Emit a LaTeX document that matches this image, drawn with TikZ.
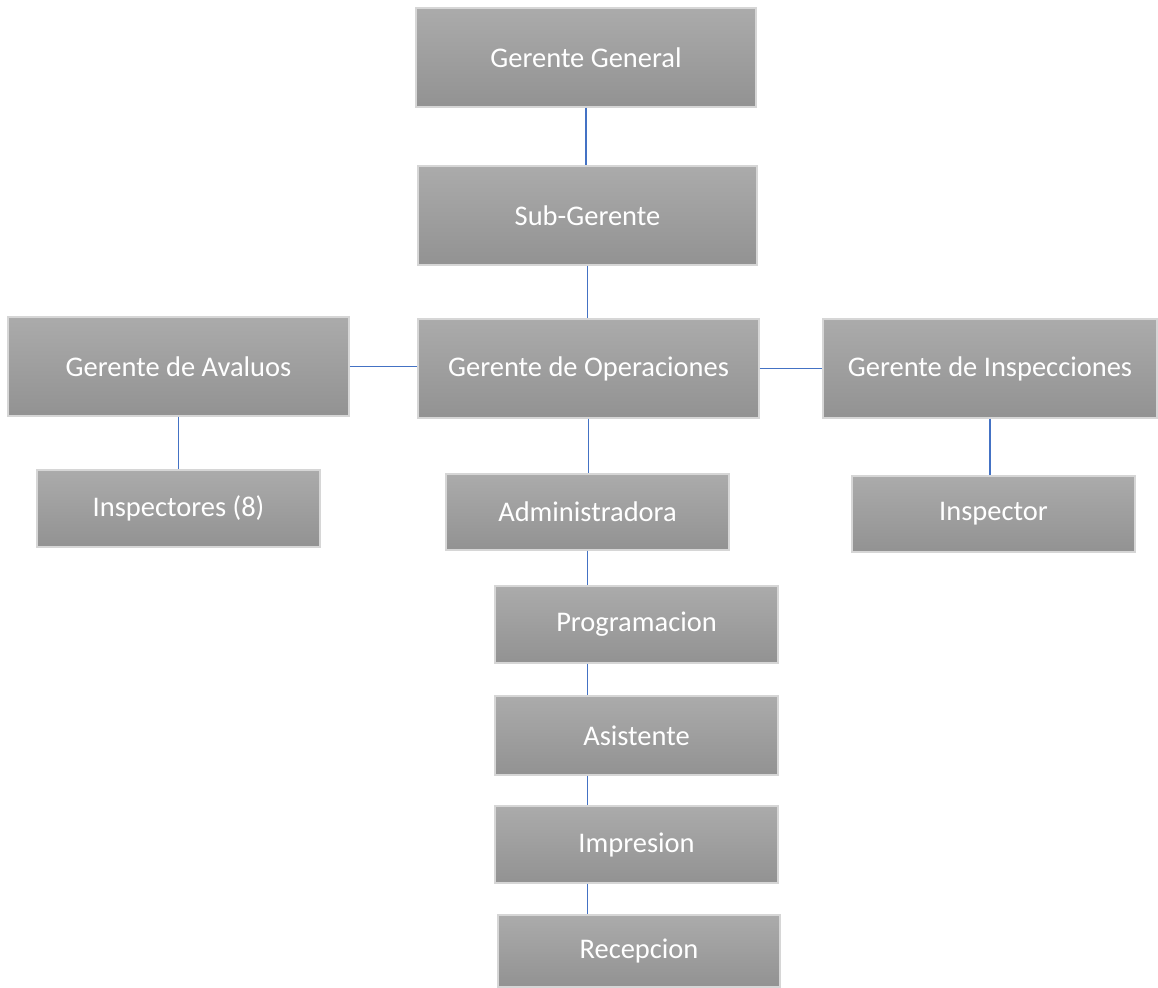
\documentclass[tikz,border=0pt]{standalone}
\usepackage{fontspec}
\setmainfont{Carlito}
\definecolor{linkblue}{HTML}{4472C4}
\definecolor{boxtop}{HTML}{ABABAB}
\definecolor{boxbot}{HTML}{929292}
\definecolor{boxedge}{HTML}{D6D6D6}

\begin{document}
\begin{tikzpicture}[
        orgbox/.style={draw=boxedge, line width=0.6pt, top color=boxtop, bottom color=boxbot,
            text=white, font=\fontsize{16.2}{19}\selectfont, inner sep=0pt,
            minimum width=6.8cm, minimum height=1.98cm},
        subbox/.style={orgbox, minimum width=5.66cm, minimum height=1.54cm},
        link/.style={linkblue, line width=0.6pt}
    ]
        % Page frame
        \useasboundingbox (0,0) rectangle (23.16,-19.74);

        % Top of the chart
        \node[orgbox] (gg) at (11.72,-1.15) {Gerente General};
        \node[orgbox, minimum width=6.78cm] (sg) at (11.75,-4.31) {Sub-Gerente};

        % Managers row
        \node[orgbox, minimum width=6.82cm] (ga) at (3.57,-7.33) {Gerente de Avaluos};
        \node[orgbox, minimum width=6.82cm] (go) at (11.77,-7.37) {Gerente de Operaciones};
        \node[orgbox, minimum width=6.68cm] (gi) at (19.80,-7.37) {Gerente de Inspecciones};

        % Staff
        \node[subbox] (insp8) at (3.57,-10.17) {Inspectores (8)};
        \node[subbox, minimum height=1.52cm] (admin) at (11.75,-10.24) {Administradora};
        \node[subbox, minimum height=1.52cm] (insp) at (19.87,-10.28) {Inspector};
        \node[subbox] (prog) at (12.73,-12.49) {Programacion};
        \node[subbox, minimum height=1.58cm] (asist) at (12.73,-14.71) {Asistente};
        \node[subbox] (impr) at (12.73,-16.89) {Impresion};
        \node[subbox, minimum width=5.64cm, minimum height=1.44cm] (recep) at (12.78,-19.02) {Recepcion};

        % Connectors
        \draw[link] (gg.south) -- (gg.south |- sg.north);
        \draw[link] (sg.south) -- (sg.south |- go.north);
        \draw[link] (ga.east) -- (ga.east -| go.west);
        \draw[link] (go.east) -- (go.east -| gi.west);
        \draw[link] (ga.south) -- (insp8.north);
        \draw[link] (gi.south) -- (gi.south |- insp.north);
        \draw[link] (go.south) -- (go.south |- admin.north);
        \draw[link] (admin.south) -- (admin.south |- prog.north);
        \draw[link] (prog.south -| admin.south) -- (asist.north -| admin.south);
        \draw[link] (asist.south -| admin.south) -- (impr.north -| admin.south);
        \draw[link] (impr.south -| admin.south) -- (recep.north -| admin.south);

    \end{tikzpicture}
\end{document}
